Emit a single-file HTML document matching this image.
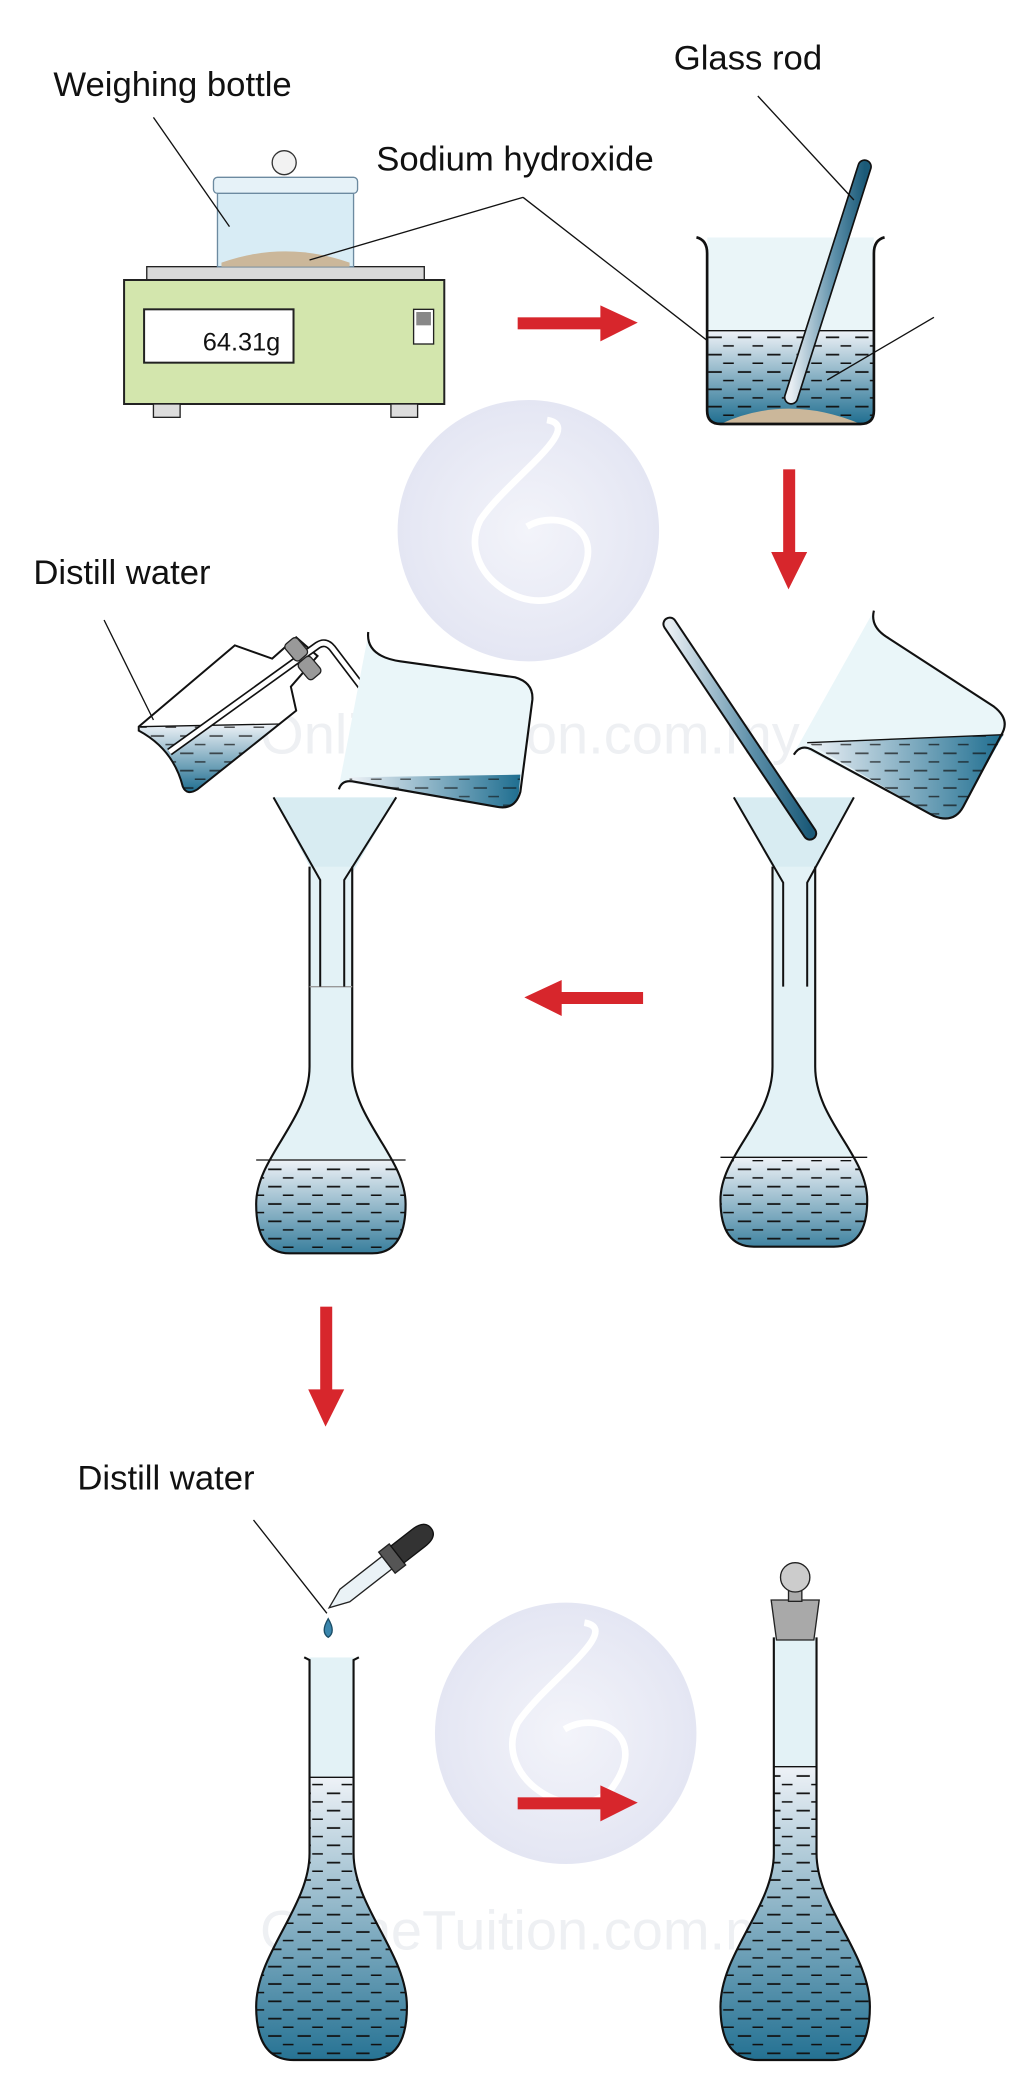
<!DOCTYPE html>
<html><head><meta charset="utf-8"><style>
html,body{margin:0;padding:0;background:#fff;}
svg{display:block;}
text{font-family:"Liberation Sans","DejaVu Sans",sans-serif;}
</style></head><body>
<svg width="1030" height="2076" viewBox="0 0 772 1557" preserveAspectRatio="none" xmlns="http://www.w3.org/2000/svg">
<defs>
<linearGradient id="liq" x1="0" y1="0" x2="0" y2="1">
<stop offset="0" stop-color="#eef2f7"/><stop offset="1" stop-color="#1f6e90"/></linearGradient>
<linearGradient id="liqh" x1="0" y1="0" x2="1" y2="0">
<stop offset="0" stop-color="#eef2f7"/><stop offset="1" stop-color="#1f6e90"/></linearGradient>
<linearGradient id="rod" x1="0" y1="0" x2="1" y2="0">
<stop offset="0" stop-color="#e8eef3"/><stop offset="0.6" stop-color="#5b8ea8"/><stop offset="1" stop-color="#1b5a78"/></linearGradient>
<pattern id="dash" width="22" height="13" patternUnits="userSpaceOnUse">
<line x1="3" y1="6" x2="13" y2="6" stroke="#111" stroke-width="1.3"/>
<line x1="14" y1="12.5" x2="22" y2="12.5" stroke="#111" stroke-width="1.3"/></pattern>
<radialGradient id="wm" cx="0.5" cy="0.5" r="0.5">
<stop offset="0" stop-color="#f3f4fa"/><stop offset="1" stop-color="#e4e6f3"/></radialGradient>
<clipPath id="c1"><path d="M232,650 L232,800 C232,840 192,868 192,903 Q192,940 217,940 L279,940 Q304,940 304,903 C304,868 264,840 264,800 L264,650 Z"/></clipPath>
<clipPath id="c2"><path d="M579,650 L579,800 C579,840 540,866 540,900 Q540,935 565,935 L625,935 Q650,935 650,900 C650,866 611,840 611,800 L611,650 Z"/></clipPath>
<clipPath id="c3"><path d="M232,1243 L232,1390 C232,1430 192,1465 192,1505 Q192,1545 220,1545 L277,1545 Q305,1545 305,1505 C305,1465 265,1430 265,1390 L265,1243 Z"/></clipPath>
<clipPath id="c4"><path d="M580,1228 L580,1390 C580,1430 540,1465 540,1505 Q540,1545 568,1545 L624,1545 Q652,1545 652,1505 C652,1465 612,1430 612,1390 L612,1228 Z"/></clipPath>
<clipPath id="cb"><path d="M530,178 L530,308 Q530,318 540,318 L645,318 Q655,318 655,308 L655,178 Z"/></clipPath>
</defs>

<circle cx="396" cy="398" r="98" fill="url(#wm)"/>
<path d="M410,315 C440,320 380,360 360,390 C340,430 400,470 430,440 C460,400 420,380 395,395" fill="none" stroke="#fff" stroke-width="5"/>
<circle cx="424" cy="1300" r="98" fill="url(#wm)"/>
<path d="M438,1217 C468,1222 408,1262 388,1292 C368,1332 428,1372 458,1342 C488,1302 448,1282 423,1297" fill="none" stroke="#fff" stroke-width="5"/>
<text x="195" y="565" font-size="42" fill="#eef0f3">OnlineTuition.com.my</text>
<text x="195" y="1462" font-size="42" fill="#eef0f3">OnlineTuition.com.my</text>

<text x="40" y="72" font-size="26" fill="#111">Weighing bottle</text>
<text x="505" y="52" font-size="26" fill="#111">Glass rod</text>
<text x="282" y="128" font-size="26" fill="#111">Sodium hydroxide</text>
<text x="25" y="438" font-size="26" fill="#111">Distill water</text>
<text x="58" y="1117" font-size="26" fill="#111">Distill water</text>

<rect x="110" y="200" width="208" height="11" fill="#d9d9d9" stroke="#222"/>
<rect x="93" y="210" width="240" height="93" fill="#d3e6ad" stroke="#222" stroke-width="1.5"/>
<rect x="108" y="232" width="112" height="40" fill="#fff" stroke="#222" stroke-width="1.5"/>
<text x="152" y="263" font-size="19" fill="#111">64.31g</text>
<rect x="310" y="232" width="15" height="26" fill="#fff" stroke="#222"/>
<rect x="312" y="234" width="11" height="10" fill="#888"/>
<rect x="115" y="303" width="20" height="10" fill="#ddd" stroke="#222"/>
<rect x="293" y="303" width="20" height="10" fill="#ddd" stroke="#222"/>
<path d="M163,143 L265,143 L265,200 L163,200 Z" fill="#d8ecf5" stroke="#6c8aa0"/>
<path d="M166,197 Q214,180 262,197 L262,200 L166,200 Z" fill="#cbb79a"/>
<rect x="160" y="133" width="108" height="12" rx="3" fill="#e6f2f8" stroke="#6c8aa0"/>
<circle cx="213" cy="122" r="9" fill="#f2f2f2" stroke="#333"/>
<line x1="115" y1="88" x2="172" y2="170" stroke="#111"/>
<line x1="392" y1="148" x2="232" y2="195" stroke="#111"/>
<line x1="392" y1="148" x2="590" y2="302" stroke="#111"/>

<g fill="#d7262c">
<rect x="388" y="238" width="65" height="9"/><polygon points="450,229 478,242 450,256"/>
<rect x="587" y="352" width="9" height="65"/><polygon points="578,414 591,442 605,414"/>
<rect x="418" y="744" width="64" height="9"/><polygon points="421,735 393,748 421,762"/>
<rect x="240" y="980" width="9" height="65"/><polygon points="231,1042 244,1070 258,1042"/>
<rect x="388" y="1348" width="64" height="9"/><polygon points="450,1339 478,1352 450,1366"/>
</g>

<g clip-path="url(#cb)">
<rect x="530" y="178" width="125" height="140" fill="#eaf5f8"/>
<rect x="530" y="248" width="125" height="70" fill="url(#liq)"/>
<rect x="530" y="250" width="125" height="68" fill="url(#dash)"/>
<path d="M540,318 Q590,295 645,318 Z" fill="#cbb79a"/>
</g>
<path d="M522,178 Q530,180 530,190 L530,308 Q530,318 540,318 L645,318 Q655,318 655,308 L655,190 Q655,180 663,178" fill="none" stroke="#111" stroke-width="2"/>
<line x1="530" y1="248" x2="655" y2="248" stroke="#111"/>
<line x1="648" y1="125" x2="593" y2="298" stroke="#111" stroke-width="11" stroke-linecap="round"/>
<line x1="648" y1="125" x2="593" y2="298" stroke="url(#rod)" stroke-width="8.5" stroke-linecap="round"/>
<line x1="568" y1="72" x2="640" y2="150" stroke="#111"/>
<line x1="700" y1="238" x2="620" y2="285" stroke="#111"/>

<!-- wash bottle -->
<path d="M104,545 L176,484 L204,494 L222,478 L238,492 L218,515 L222,533 L148,592 Q140,597 137,590 Q130,562 104,548 Z" fill="#fff"/>
<path d="M105,545 L210,543 L148,592 Q140,597 137,590 Q130,562 105,548 Z" fill="url(#liq)"/>
<path d="M105,545 L210,543 L148,592 Q140,597 137,590 Q130,562 105,548 Z" fill="url(#dash)" opacity="0.7"/>
<path d="M104,545 L176,484 L204,494 L222,478 L238,492 L218,515 L222,533 L148,592 Q140,597 137,590 Q130,562 104,548 Z" fill="none" stroke="#111" stroke-width="1.5"/>
<line x1="104" y1="545" x2="210" y2="543" stroke="#111" stroke-width="1"/>
<path d="M127,564 L238,484 Q244,480 249,486 L290,540" fill="none" stroke="#111" stroke-width="6"/>
<path d="M127,564 L238,484 Q244,480 249,486 L290,540" fill="none" stroke="#fff" stroke-width="3.5"/>
<path d="M272,517 L290,540" fill="none" stroke="#888" stroke-width="4"/>
<rect x="216" y="479" width="12" height="16" rx="3" fill="#999" stroke="#222" transform="rotate(-40 222 487)"/>
<rect x="226" y="493" width="12" height="16" rx="3" fill="#999" stroke="#222" transform="rotate(-40 232 501)"/>
<line x1="78" y1="465" x2="115" y2="540" stroke="#111"/>

<!-- left pouring beaker -->
<path d="M276,476 Q276,492 300,496 L386,508 Q400,512 399,525 L390,594 Q386,608 372,605 L262,587 Q256,585 254,590 Z" fill="#eaf6f9"/>
<path d="M262,583 L390,581 L389,594 Q386,608 372,605 L262,587 Z" fill="url(#liqh)"/>
<path d="M262,583 L390,581 L389,594 Q386,608 372,605 L262,587 Z" fill="url(#dash)" opacity="0.6"/>
<path d="M276,474 Q274,492 300,496 L386,508 Q400,512 399,525 L390,594 Q386,608 372,605 L264,586 Q256,585 254,592" fill="none" stroke="#111" stroke-width="1.6"/>

<!-- funnel left + flask -->
<path d="M205,598 L297,598 L258,665 L258,740 L240,740 L240,665 Z" fill="#d8ecf2"/>
<g clip-path="url(#c1)">
<rect x="180" y="640" width="140" height="310" fill="#e3f2f6"/>
<rect x="180" y="870" width="140" height="80" fill="url(#liq)"/>
<rect x="180" y="872" width="140" height="80" fill="url(#dash)"/>
</g>
<path d="M232,650 L232,800 C232,840 192,868 192,903 Q192,940 217,940 L279,940 Q304,940 304,903 C304,868 264,840 264,800 L264,650" fill="none" stroke="#111" stroke-width="1.6"/>
<line x1="192" y1="870" x2="304" y2="870" stroke="#111"/>
<line x1="232" y1="740" x2="264" y2="740" stroke="#999"/>
<path d="M205,598 L240,660 L240,740 M297,598 L258,660 L258,740" fill="none" stroke="#111" stroke-width="1.5"/>

<!-- middle right -->
<path d="M655,458 Q652,470 665,478 L745,530 Q758,540 748,555 L722,605 Q715,618 700,612 L606,563 Q600,560 595,565 Z" fill="#eaf6f9"/>
<path d="M605,557 L752,551 L722,605 Q715,618 700,612 Z" fill="url(#liqh)"/>
<path d="M605,557 L752,551 L722,605 Q715,618 700,612 Z" fill="url(#dash)" opacity="0.7"/>
<path d="M655,458 Q652,470 665,478 L745,530 Q758,540 750,552 L722,605 Q715,618 700,612 L608,562 Q600,558 595,566" fill="none" stroke="#111" stroke-width="1.6"/>
<line x1="605" y1="557" x2="752" y2="551" stroke="#111"/>
<path d="M550,598 L640,598 L605,665 L605,740 L587,740 L587,665 Z" fill="#d8ecf2"/>
<g clip-path="url(#c2)">
<rect x="530" y="640" width="140" height="310" fill="#e3f2f6"/>
<rect x="530" y="868" width="140" height="80" fill="url(#liq)"/>
<rect x="530" y="870" width="140" height="80" fill="url(#dash)"/>
</g>
<path d="M579,650 L579,800 C579,840 540,866 540,900 Q540,935 565,935 L625,935 Q650,935 650,900 C650,866 611,840 611,800 L611,650" fill="none" stroke="#111" stroke-width="1.6"/>
<line x1="540" y1="868" x2="650" y2="868" stroke="#111"/>
<path d="M550,598 L587,662 L587,740 M640,598 L605,662 L605,740" fill="none" stroke="#111" stroke-width="1.5"/>
<line x1="502" y1="468" x2="607" y2="625" stroke="#111" stroke-width="11" stroke-linecap="round"/>
<line x1="502" y1="468" x2="607" y2="625" stroke="url(#rod)" stroke-width="8" stroke-linecap="round"/>

<!-- bottom left -->
<g clip-path="url(#c3)">
<rect x="180" y="1235" width="140" height="320" fill="#e3f2f6"/>
<rect x="180" y="1333" width="140" height="220" fill="url(#liq)"/>
<rect x="180" y="1335" width="140" height="220" fill="url(#dash)"/>
</g>
<path d="M228,1243 L232,1245 L232,1390 C232,1430 192,1465 192,1505 Q192,1545 220,1545 L277,1545 Q305,1545 305,1505 C305,1465 265,1430 265,1390 L265,1245 L269,1243" fill="none" stroke="#111" stroke-width="1.6"/>
<line x1="232" y1="1333" x2="265" y2="1333" stroke="#111"/>
<line x1="190" y1="1140" x2="245" y2="1210" stroke="#111"/>
<path d="M246,1214 Q240,1224 246,1228 Q252,1224 246,1214 Z" fill="#3a86ad" stroke="#1b4d66"/>
<g transform="rotate(-38 290 1172)">
<path d="M235,1172 L250,1166 L290,1166 L290,1178 L250,1178 Z" fill="#eaf2f6" stroke="#222"/>
<rect x="290" y="1162" width="10" height="20" fill="#555" stroke="#222"/>
<path d="M300,1164 L320,1164 Q332,1164 332,1172 Q332,1180 320,1180 L300,1180 Z" fill="#333" stroke="#111"/>
</g>

<!-- bottom right -->
<g clip-path="url(#c4)">
<rect x="530" y="1220" width="140" height="330" fill="#e3f2f6"/>
<rect x="530" y="1325" width="140" height="225" fill="url(#liq)"/>
<rect x="530" y="1327" width="140" height="225" fill="url(#dash)"/>
</g>
<path d="M580,1228 L580,1390 C580,1430 540,1465 540,1505 Q540,1545 568,1545 L624,1545 Q652,1545 652,1505 C652,1465 612,1430 612,1390 L612,1228" fill="none" stroke="#111" stroke-width="1.6"/>
<line x1="580" y1="1325" x2="612" y2="1325" stroke="#111"/>
<path d="M578,1200 L614,1200 L610,1230 L582,1230 Z" fill="#a9a9a9" stroke="#222"/>
<rect x="591" y="1192" width="10" height="9" fill="#aaa" stroke="#222"/>
<circle cx="596" cy="1183" r="11" fill="#ccc" stroke="#222"/>
</svg>
</body></html>
